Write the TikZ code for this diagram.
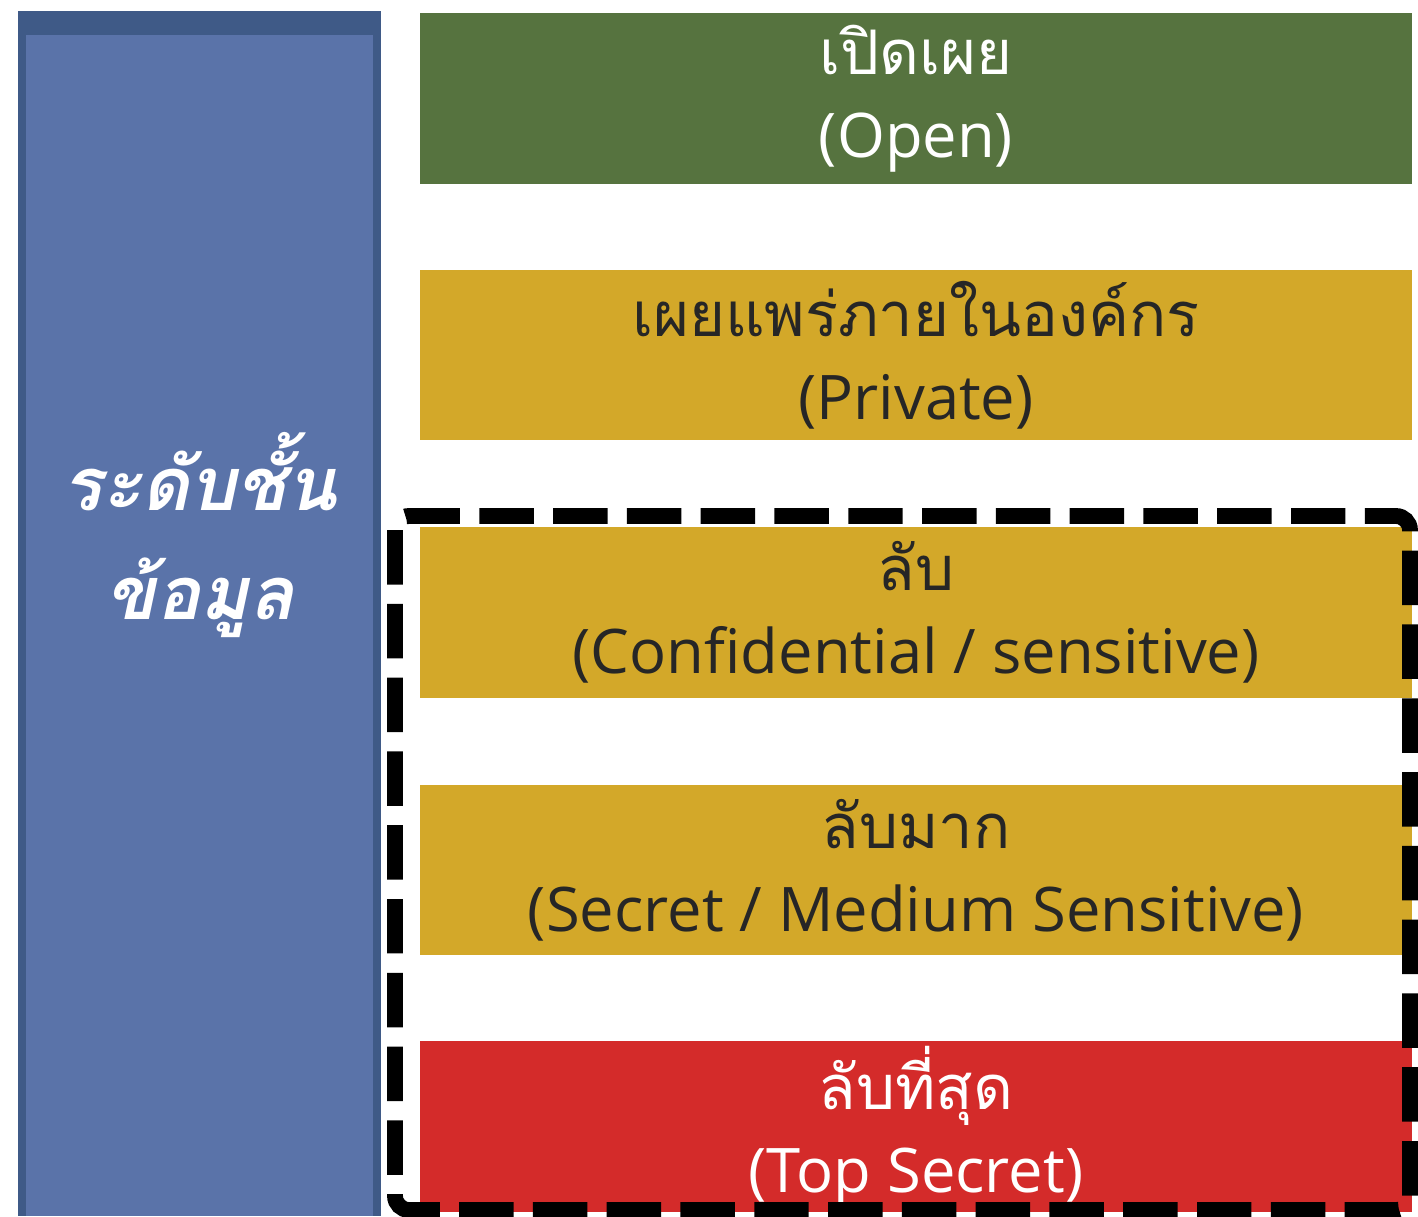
\documentclass[tikz,border=0pt]{standalone}
\usepackage{fontspec}
\setmainfont{Open Sans}
\newfontfamily\thaifont[Script=Thai]{Loma}
\definecolor{openclr}{HTML}{56733F}
\definecolor{privclr}{HTML}{D3A829}
\definecolor{topclr}{HTML}{D42B2A}
\definecolor{barclr}{HTML}{5A73A9}
\definecolor{bardark}{HTML}{3F5A87}
\begin{document}
\begin{tikzpicture}[x=0.02cm,y=-0.02cm,
  levelbox/.style={rectangle,inner sep=0pt,minimum width=19.84cm,minimum height=3.42cm,
    align=center,font=\fontsize{35}{47}\selectfont},
  dashbox/.style={draw=black,line width=9pt,dash pattern=on 31pt off 11pt,rounded corners=8pt}]
\useasboundingbox (0,0) rectangle (1418,1217);
\fill[bardark] (18,11) rectangle (381,1216);
\fill[barclr] (26,35) rectangle (373,1216);
\node[text=white,align=center,font=\fontsize{42}{62}\selectfont\thaifont\bfseries\itshape] (title) at (200,535) {ระดับชั้น\\ข้อมูล};
\node[levelbox,fill=openclr,text=white] (open) at (916,98.5) {{\thaifont เปิดเผย}\\(Open)};
\node[levelbox,fill=privclr,text=black!85] (private) at (916,355) {{\thaifont เผยแพร่ภายในองค์กร}\\(Private)};
\node[levelbox,fill=privclr,text=black!85] (conf) at (916,612.5) {{\thaifont ลับ}\\(Confidential / sensitive)};
\node[levelbox,fill=privclr,text=black!85] (secret) at (916,870) {{\thaifont ลับมาก}\\(Secret / Medium Sensitive)};
\node[levelbox,fill=topclr,text=white] (topsecret) at (916,1126.5) {{\thaifont ลับที่สุด}\\(Top Secret)};
\draw[dashbox] (395,516) rectangle (1410,1210);
\end{tikzpicture}
\end{document}
